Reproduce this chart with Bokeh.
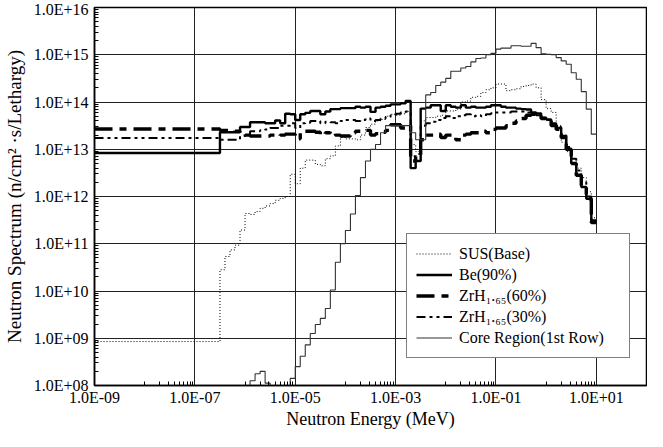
from bokeh.plotting import figure
from bokeh.models import (FixedTicker, CustomJSTickFormatter, Legend, LegendItem, Range1d)
from bokeh.embed import file_html
from bokeh.resources import INLINE

# ---------------- data ----------------
# group boundaries, log10(E / MeV)
LOG_E_EDGES = [-9.0, -6.5, -6.4, -6.3, -6.2, -6.1, -6.0, -5.9, -5.8, -5.7, -5.6,
               -5.5, -5.4, -5.3, -5.2, -5.1, -5.0, -4.9, -4.8, -4.7, -4.6,
               -4.5, -4.4, -4.3, -4.2, -4.1, -4.0, -3.9, -3.8, -3.7, -3.6,
               -3.5, -3.4, -3.3, -3.2, -3.1, -3.0, -2.9, -2.8, -2.7, -2.6,
               -2.5, -2.4, -2.3, -2.2, -2.1, -2.0, -1.9, -1.8, -1.7, -1.6,
               -1.5, -1.4, -1.3, -1.2, -1.1, -1.0, -0.9, -0.8, -0.7, -0.6,
               -0.5, -0.4, -0.3, -0.2, -0.1, 0.0, 0.1, 0.2, 0.3, 0.4,
               0.5, 0.6, 0.7, 0.8, 0.9, 1.0]

# log10 of spectrum per group
SUS_LOG = [8.93,
           10.45, 10.73, 10.87, 10.97, 11.29, 11.64, 11.62, 11.68, 11.75, 11.80,
           11.85, 11.92, 11.96, 12.00, 12.47, 12.27, 12.60, 12.77, 12.77, 12.68,
           12.65, 12.80, 12.86, 13.07, 13.25, 13.22, 13.22, 13.20, 13.30, 13.46,
           13.53, 13.60, 13.63, 13.70, 13.74, 13.72, 13.75, 13.80, 13.10, 12.95,
           13.60, 13.67, 13.67, 13.70, 13.72, 13.81, 13.81, 13.85, 14.00, 14.02,
           14.10, 14.12, 14.20, 14.26, 14.30, 14.38, 14.38, 14.24, 14.26, 14.28,
           14.33, 14.35, 14.38, 14.30, 14.05, 13.86, 13.78, 13.50, 13.15, 12.95,
           12.80, 12.60, 12.40, 12.10, 11.55]

BE_LOG = [12.92,
          13.36, 13.36, 13.36, 13.36, 13.47, 13.47, 13.57, 13.57, 13.57, 13.55,
          13.55, 13.61, 13.55, 13.75, 13.74, 13.62, 13.74, 13.77, 13.81, 13.81,
          13.74, 13.80, 13.85, 13.85, 13.87, 13.87, 13.87, 13.90, 13.88, 13.90,
          13.79, 13.88, 13.90, 13.92, 13.95, 13.95, 13.97, 14.02, 12.60, 12.75,
          13.86, 13.88, 13.93, 13.93, 13.81, 13.93, 13.90, 13.88, 13.93, 13.88,
          13.90, 13.88, 13.88, 13.90, 13.93, 13.93, 13.90, 13.88, 13.88, 13.86,
          13.85, 13.84, 13.78, 13.76, 13.67, 13.63, 13.53, 13.45, 13.28, 13.00,
          12.70, 12.45, 12.20, 11.95, 11.45]

ZRH60_LOG = [13.43,
             13.40, 13.40, 13.40, 13.38, 13.33, 13.30, 13.28, 13.28, 13.28, 13.28,
             13.30, 13.28, 13.30, 13.32, 13.32, 13.22, 13.35, 13.38, 13.38, 13.36,
             13.30, 13.35, 13.37, 13.30, 13.28, 13.28, 13.35, 13.38, 13.38, 13.40,
             13.30, 13.33, 13.36, 13.40, 13.52, 13.52, 13.45, 13.50, 12.75, 12.85,
             13.20, 13.30, 13.30, 13.32, 13.25, 13.30, 13.30, 13.20, 13.30, 13.32,
             13.35, 13.35, 13.38, 13.35, 13.42, 13.45, 13.45, 13.50, 13.55, 13.60,
             13.65, 13.72, 13.74, 13.72, 13.65, 13.60, 13.50, 13.42, 13.25, 13.00,
             12.70, 12.45, 12.20, 11.95, 11.45]

ZRH30_LOG = [13.24,
             13.20, 13.20, 13.20, 13.20, 13.28, 13.30, 13.38, 13.38, 13.40, 13.42,
             13.45, 13.45, 13.50, 13.50, 13.55, 13.45, 13.55, 13.56, 13.60, 13.60,
             13.55, 13.58, 13.57, 13.55, 13.60, 13.62, 13.62, 13.60, 13.62, 13.65,
             13.60, 13.62, 13.65, 13.68, 13.72, 13.75, 13.78, 13.80, 12.85, 12.90,
             13.50, 13.55, 13.58, 13.62, 13.66, 13.70, 13.66, 13.70, 13.72, 13.74,
             13.70, 13.72, 13.70, 13.74, 13.76, 13.78, 13.78, 13.78, 13.80, 13.80,
             13.80, 13.78, 13.75, 13.72, 13.66, 13.62, 13.55, 13.47, 13.32, 13.05,
             12.80, 12.55, 12.30, 12.00, 11.50]

CORE_LOG = [7.50,
            7.50, 7.50, 7.50, 7.50, 7.50, 7.50, 8.10, 8.25, 8.30, 8.05,
            7.50, 7.50, 7.50, 7.50, 8.15, 8.40, 8.62, 8.86, 9.10, 9.29,
            9.42, 9.63, 10.02, 10.61, 11.00, 11.28, 11.63, 12.02, 12.40, 12.75,
            13.00, 13.10, 13.35, 13.50, 13.50, 13.50, 13.50, 13.50, 13.35, 13.20,
            13.20, 14.15, 14.20, 14.35, 14.42, 14.50, 14.65, 14.65, 14.72, 14.75,
            14.85, 14.92, 14.93, 15.00, 15.03, 15.12, 15.14, 15.14, 15.19, 15.19,
            15.18, 15.18, 15.24, 15.15, 15.02, 15.01, 15.00, 14.94, 14.87, 14.80,
            14.62, 14.48, 14.22, 13.85, 13.32]

SERIES_NAMES = ["SUS(Base)", "Be(90%)", "ZrH\u2081.\u2086\u2085(60%)",
                "ZrH\u2081.\u2086\u2085(30%)", "Core Region(1st Row)"]

X_TICKS = [1e-9, 1e-7, 1e-5, 1e-3, 1e-1, 1e1]
X_TICK_LABELS = ["1.0E-09", "1.0E-07", "1.0E-05", "1.0E-03", "1.0E-01", "1.0E+01"]
Y_TICKS = [1e8, 1e9, 1e10, 1e11, 1e12, 1e13, 1e14, 1e15, 1e16]
Y_TICK_LABELS = ["1.0E+08", "1.0E+09", "1.0E+10", "1.0E+11", "1.0E+12",
                 "1.0E+13", "1.0E+14", "1.0E+15", "1.0E+16"]
X_MINOR = [k * 10.0 ** e for e in (-8, -6, -4, -2, 0, 2) for k in range(1, 10)]
Y_MINOR = [k * 10.0 ** e for e in range(8, 16) for k in range(2, 10)]

FONT = "'Liberation Serif', 'Times New Roman', serif"

# ---------------- figure ----------------
p = figure(width=647, height=431, x_axis_type="log", y_axis_type="log",
           x_range=Range1d(1e-9, 1e2), y_range=Range1d(1e8, 1e16),
           output_backend="svg", toolbar_location=None,
           min_border_top=7, min_border_right=1, min_border_left=93, min_border_bottom=40)

p.outline_line_color = "black"
p.outline_line_width = 1.5
p.background_fill_color = "white"
p.border_fill_color = "white"

xt = FixedTicker(ticks=X_TICKS, minor_ticks=X_MINOR)
yt = FixedTicker(ticks=Y_TICKS, minor_ticks=Y_MINOR)
p.xaxis.ticker = xt
p.yaxis.ticker = yt
p.xgrid.ticker = xt
p.ygrid.ticker = yt

code = """
const lt = Math.log10(tick);
for (let i = 0; i < tick_vals.length; i++) {
  if (Math.abs(Math.log10(tick_vals[i]) - lt) < 1e-6) return tick_labels[i];
}
return "";
"""
p.xaxis.formatter = CustomJSTickFormatter(
    args=dict(tick_vals=X_TICKS, tick_labels=X_TICK_LABELS), code=code)
p.yaxis.formatter = CustomJSTickFormatter(
    args=dict(tick_vals=Y_TICKS, tick_labels=Y_TICK_LABELS), code=code)

for g in (p.xgrid, p.ygrid):
    g.grid_line_color = "#222222"
    g.grid_line_width = 1

for ax in (p.xaxis, p.yaxis):
    ax.axis_line_color = "black"
    ax.axis_line_width = 1.5
    ax.major_tick_in = 0
    ax.major_tick_out = 0
    ax.minor_tick_in = 4
    ax.minor_tick_out = 0
    ax.minor_tick_line_color = "black"
    ax.major_label_text_font = FONT
    ax.major_label_text_font_size = "16px"
    ax.major_label_text_color = "black"
    ax.axis_label_text_font = FONT
    ax.axis_label_text_font_size = "18px"
    ax.axis_label_text_font_style = "normal"
    ax.axis_label_text_color = "black"

p.xaxis.axis_label = "Neutron Energy (MeV)"
p.yaxis.axis_label = "Neutron Spectrum (n/cm\u00b2 \u00b7s/Lethargy)"
p.yaxis.axis_label_text_font_size = "19px"
p.xaxis.major_label_standoff = 3
p.xaxis.axis_label_standoff = 0
p.yaxis.major_label_standoff = 6
p.yaxis.axis_label_standoff = 6

edges = [10.0 ** v for v in LOG_E_EDGES]

def step_y(logs):
    vals = [10.0 ** v for v in logs]
    return vals + [vals[-1]]

r_sus = p.step(edges, step_y(SUS_LOG), mode="after", line_color="black",
               line_width=1, line_dash="1 2")
r_be = p.step(edges, step_y(BE_LOG), mode="after", line_color="black",
              line_width=2.4)
r_z60 = p.step(edges, step_y(ZRH60_LOG), mode="after", line_color="black",
               line_width=3.4, line_dash="18 7 7 7")
r_z30 = p.step(edges, step_y(ZRH30_LOG), mode="after", line_color="black",
               line_width=2, line_dash="9 4 3 4 3 4")
r_core = p.step(edges, step_y(CORE_LOG), mode="after", line_color="#333333",
                line_width=1.1)

legend = Legend(items=[LegendItem(label=SERIES_NAMES[0], renderers=[r_sus]),
                       LegendItem(label=SERIES_NAMES[1], renderers=[r_be]),
                       LegendItem(label=SERIES_NAMES[2], renderers=[r_z60]),
                       LegendItem(label=SERIES_NAMES[3], renderers=[r_z30]),
                       LegendItem(label=SERIES_NAMES[4], renderers=[r_core])],
                location=(312, 27))
legend.background_fill_color = "white"
legend.background_fill_alpha = 1.0
legend.border_line_color = "black"
legend.border_line_width = 1
legend.label_text_font = FONT
legend.label_text_font_size = "16px"
legend.label_text_color = "black"
legend.padding = 9
legend.spacing = 0
legend.margin = 0
legend.glyph_width = 36
legend.glyph_height = 21
legend.label_height = 21
legend.label_standoff = 7
legend.label_width = 161
p.add_layout(legend)

with open("out.html", "w") as f:
    f.write(file_html(p, INLINE))
